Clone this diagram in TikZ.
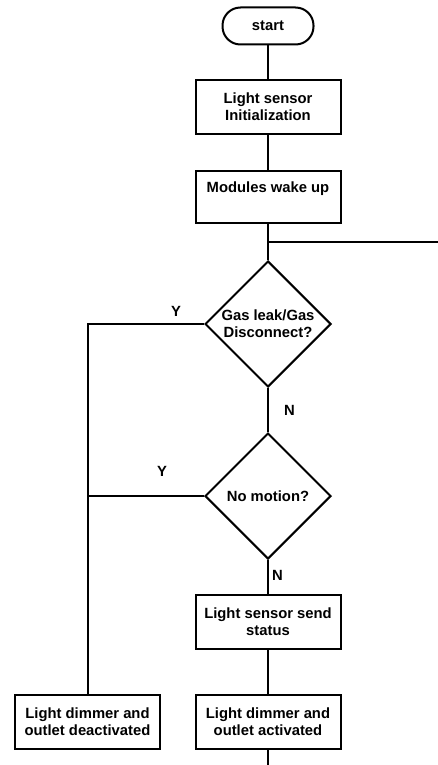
\documentclass[tikz,border=0pt]{standalone}
\usepackage{fontspec}
\setmainfont{Liberation Sans}
\usepackage{tikz}
\usetikzlibrary{shapes.geometric,calc}

\begin{document}
\begin{tikzpicture}[
    x=1pt, y=-1pt,
    line width=2pt,
    font=\fontsize{14.8}{17}\selectfont\bfseries,
    term/.style={draw,rounded corners=18pt,minimum width=91pt,minimum height=37pt,inner sep=2pt},
    proc/.style={draw,align=center,minimum width=145pt,minimum height=54pt,inner sep=2pt},
    decide/.style={draw,diamond,aspect=1,minimum size=126pt,inner sep=-12pt,align=center},
    flow/.style={line width=2pt},
    lbl/.style={inner sep=1pt},
  ]
  \useasboundingbox (0,0) rectangle (438,765);

  % --- main column ---
  \node[term] (start)  at (268,26)  {start};
  \node[proc] (init)   at (268,107) {Light sensor\\Initialization};
  \node[proc,minimum height=52pt,text depth=20pt] (wake) at (268,197) {Modules wake up};
  \coordinate (split) at (268,242);
  \coordinate (exit)  at (438,242);
  \node[decide] (gas)    at (268,324) {Gas leak/Gas\\Disconnect?};
  \node[decide] (motion) at (268,496) {No motion?};
  \node[proc] (status) at (268,622)   {Light sensor send\\status};
  \node[proc] (on)     at (268,721.5) {Light dimmer and\\outlet activated};
  \coordinate (tail) at (268,765);

  % --- yes branch ---
  \node[proc] (off) at (87.5,721.5) {Light dimmer and\\outlet deactivated};

  % --- connectors ---
  \draw[flow] (start) -- (init);
  \draw[flow] (init) -- (wake);
  \draw[flow] (wake) -- (gas);
  \draw[flow] (split) -- (exit);
  \draw[flow] (gas) -- node[lbl,right=14pt,pos=0.5] {N} (motion);
  \draw[flow] (motion) -- node[lbl,right=2pt,pos=0.45] {N} (status);
  \draw[flow] (status) -- (on);
  \draw[flow] (on) -- (tail);
  \draw[flow] (gas.west) -- node[lbl,above=6pt,pos=0.24] {Y} (off.north |- gas.west) -- (off.north);
  \draw[flow] (motion.west) -- node[lbl,above=18pt,pos=0.36] {Y} (off.north |- motion.west);

\end{tikzpicture}
\end{document}
